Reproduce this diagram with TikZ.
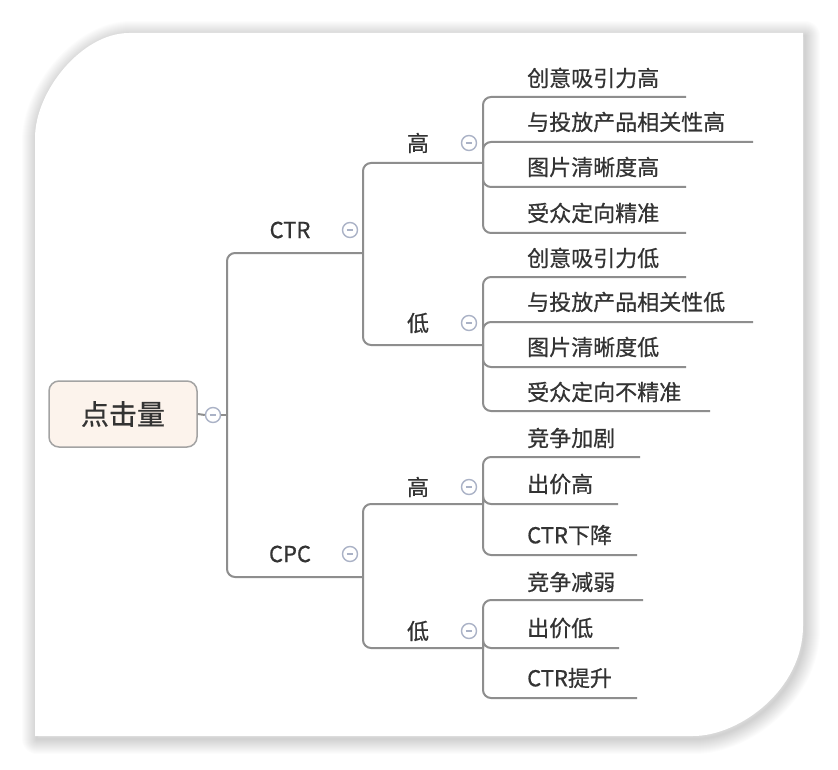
\documentclass[tikz,border=0pt]{standalone}
\usepackage{fontspec}
\setmainfont{Noto Sans CJK SC}
\newfontfamily\cjk[FakeBold=0.6]{Noto Sans CJK SC}
\definecolor{linegray}{HTML}{8E8E8E}
\definecolor{txt}{HTML}{333333}
\definecolor{circ}{HTML}{AAB2C6}
\definecolor{rootfill}{HTML}{FCF3EC}
\definecolor{rootdraw}{HTML}{A3A3A3}
\newcommand{\cardpath}{(35,138) .. controls (35,91) and (82,33) .. (129,33) -- (803,33) -- (803,626) .. controls (803,689) and (740,736) .. (693,736) -- (35,736) -- cycle}
\begin{document}
\begin{tikzpicture}[x=1pt,y=-1pt,
  edge/.style={draw=linegray,line width=2pt,rounded corners=8pt},
  leaf/.style={anchor=west,inner sep=0pt,text=txt,font=\cjk\fontsize{22pt}{25pt}\selectfont},
  mid/.style={inner sep=0pt,text=txt,font=\cjk\fontsize{22pt}{25pt}\selectfont},
  tog/.style={circle,draw=circ,line width=1.4pt,fill=white,minimum size=15pt,inner sep=0pt,
    path picture={\draw[circ,line width=1.3pt] ([xshift=-3.2pt]path picture bounding box.center) -- ([xshift=3.2pt]path picture bounding box.center);}},
  rootbox/.style={draw=rootdraw,line width=1.5pt,fill=rootfill,rounded corners=10pt,minimum width=148pt,minimum height=66pt,inner sep=0pt,text=txt,font=\cjk\fontsize{28pt}{32pt}\selectfont}
]
\useasboundingbox (0,0) rectangle (838,770);
\fill[white] (0,0) rectangle (838,770);
% shadow
\begin{scope}[shift={(2,3)}]
\foreach \w in {2,4,...,30}{
  \draw[black,line width=\w pt,opacity=0.013,line join=round] \cardpath;
}
\end{scope}
\fill[white] \cardpath;

% root
\node[rootbox] (root) at (123,414) {点击量};
\node[tog] (c0) at (213,415) {};
\coordinate (J0) at (227,415);
\draw[edge] (root.east) -- (c0.west);
\draw[edge] (c0.east) -- (J0);

% CTR branch
\node[mid] (ctr) at (290,230) {CTR};
\node[tog] (c1) at (350,230) {};
\coordinate (J1) at (363,253);
\draw[edge] (J0) |- (J1);

\node[mid] (gao1) at (418,143) {高};
\node[tog] (c2) at (469,143) {};
\coordinate (J2) at (483,163);
\draw[edge] (J1) |- (J2);

\node[mid] (di1) at (418,323) {低};
\node[tog] (c3) at (469,323) {};
\coordinate (J3) at (483,345);
\draw[edge] (J1) |- (J3);

% CTR high leaves
\node[leaf] (a1) at (527,78) {创意吸引力高};
\node[leaf] (a2) at (527,122) {与投放产品相关性高};
\node[leaf] (a3) at (527,167) {图片清晰度高};
\node[leaf] (a4) at (527,213) {受众定向精准};
\coordinate (a1e) at (686,97);
\coordinate (a2e) at (753,142);
\coordinate (a3e) at (686,187);
\coordinate (a4e) at (686,233);
\foreach \e in {a1e,a2e,a3e,a4e}{\draw[edge] (J2) |- (\e);}

% CTR low leaves
\node[leaf] (b1) at (527,258) {创意吸引力低};
\node[leaf] (b2) at (527,302) {与投放产品相关性低};
\node[leaf] (b3) at (527,347) {图片清晰度低};
\node[leaf] (b4) at (527,392) {受众定向不精准};
\coordinate (b1e) at (686,277);
\coordinate (b2e) at (753,322);
\coordinate (b3e) at (686,367);
\coordinate (b4e) at (710,411);
\foreach \e in {b1e,b2e,b3e,b4e}{\draw[edge] (J3) |- (\e);}

% CPC branch
\node[mid] (cpc) at (290,554) {CPC};
\node[tog] (c4) at (350,554) {};
\coordinate (J4) at (363,577);
\draw[edge] (J0) |- (J4);

\node[mid] (gao2) at (418,487) {高};
\node[tog] (c5) at (469,487) {};
\coordinate (J5) at (483,504);
\draw[edge] (J4) |- (J5);

\node[mid] (di2) at (418,631) {低};
\node[tog] (c6) at (469,631) {};
\coordinate (J6) at (483,648);
\draw[edge] (J4) |- (J6);

% CPC high leaves
\node[leaf] (d1) at (527,438) {竞争加剧};
\node[leaf] (d2) at (527,484) {出价高};
\node[leaf] (d3) at (527,535) {CTR下降};
\coordinate (d1e) at (640,457);
\coordinate (d2e) at (618,504);
\coordinate (d3e) at (637,555);
\foreach \e in {d1e,d2e,d3e}{\draw[edge] (J5) |- (\e);}

% CPC low leaves
\node[leaf] (e1) at (527,582) {竞争减弱};
\node[leaf] (e2) at (527,628) {出价低};
\node[leaf] (e3) at (527,678) {CTR提升};
\coordinate (e1e) at (643,600);
\coordinate (e2e) at (619,648);
\coordinate (e3e) at (637,698);
\foreach \e in {e1e,e2e,e3e}{\draw[edge] (J6) |- (\e);}
\end{tikzpicture}
\end{document}
